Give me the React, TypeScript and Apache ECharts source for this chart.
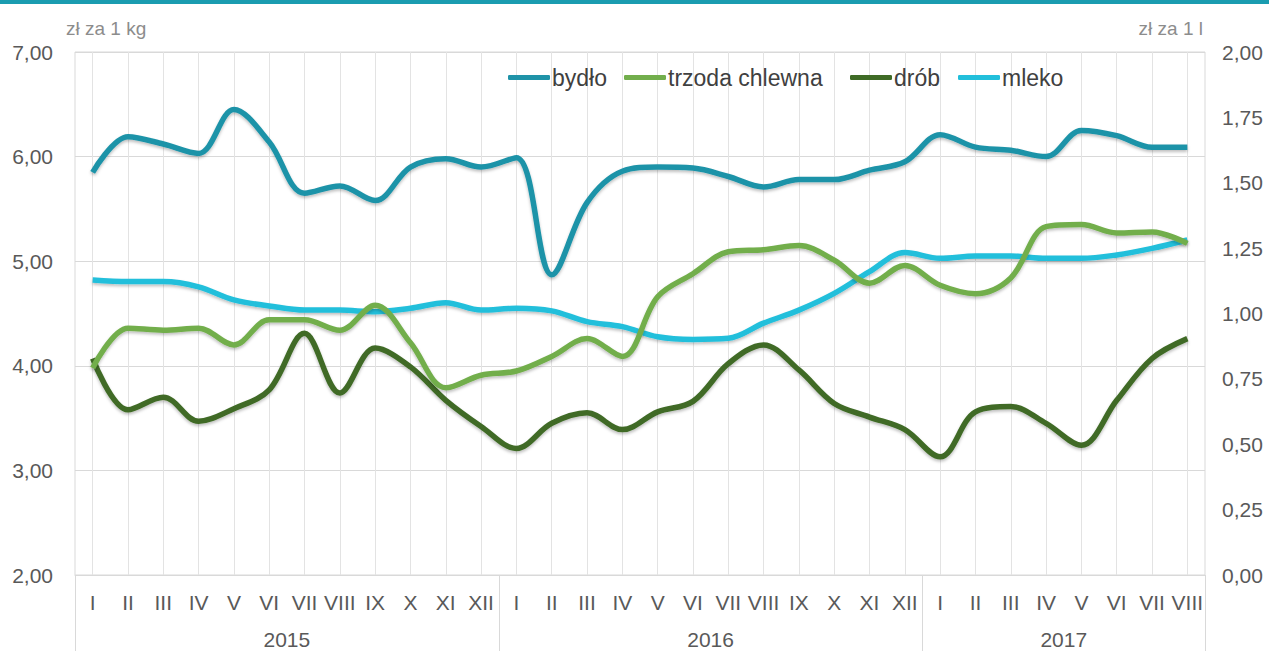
import React, { useEffect, useRef } from 'react';
import * as echarts from 'echarts';

const months = [
  'I', 'II', 'III', 'IV', 'V', 'VI', 'VII', 'VIII', 'IX', 'X', 'XI', 'XII',
  'I', 'II', 'III', 'IV', 'V', 'VI', 'VII', 'VIII', 'IX', 'X', 'XI', 'XII',
  'I', 'II', 'III', 'IV', 'V', 'VI', 'VII', 'VIII',
];
const years = ['2015', '2016', '2017'];
const yearLengths = [12, 12, 8];

const bydlo = [
  5.85, 6.19, 6.12, 6.03, 6.45, 6.14, 5.65, 5.72, 5.58, 5.9, 5.98, 5.9,
  5.99, 4.87, 5.56, 5.86, 5.9, 5.89, 5.81, 5.71, 5.78, 5.78, 5.87, 5.95,
  6.21, 6.09, 6.06, 6.0, 6.25, 6.2, 6.09, 6.09,
];
const trzoda = [
  3.98, 4.36, 4.34, 4.36, 4.2, 4.44, 4.44, 4.34, 4.58, 4.22, 3.79, 3.91,
  3.95, 4.09, 4.26, 4.09, 4.66, 4.88, 5.09, 5.11, 5.15, 5.01, 4.79, 4.96,
  4.77, 4.69, 4.84, 5.33, 5.35, 5.27, 5.28, 5.17,
];
const drob = [
  4.07, 3.58, 3.7, 3.47, 3.59, 3.77, 4.31, 3.74, 4.17, 3.99, 3.67, 3.42,
  3.21, 3.45, 3.55, 3.39, 3.56, 3.66, 4.02, 4.2, 3.96, 3.64, 3.51, 3.39,
  3.13, 3.56, 3.61, 3.45, 3.24, 3.67, 4.07, 4.26,
];
const mleko = [
  1.128, 1.122, 1.122, 1.102, 1.052, 1.029, 1.013, 1.013, 1.007, 1.02, 1.041, 1.013,
  1.02, 1.01, 0.969, 0.95, 0.911, 0.901, 0.905, 0.963, 1.013, 1.077, 1.16, 1.233,
  1.211, 1.22, 1.22, 1.211, 1.211, 1.224, 1.249, 1.281,
];

const seriesNames = ['bydło', 'trzoda chlewna', 'drób', 'mleko'];
const seriesColors = ['#1f93a8', '#72ae4c', '#3f6b26', '#22bfdb'];
const leftUnit = 'zł za 1 kg';
const rightUnit = 'zł za 1 l';

const FONT = 'Liberation Sans, Arial, sans-serif';

export default function App() {
  const ref = useRef<HTMLDivElement>(null);

  useEffect(() => {
    const chart = echarts.init(ref.current!, null, { renderer: 'svg' });

    const boundaries: number[] = [0];
    const centers: number[] = [];
    let acc = 0;
    yearLengths.forEach((n) => {
      centers.push(acc + n / 2);
      acc += n;
      boundaries.push(acc);
    });

    const fmt = (v: number) => v.toFixed(2).replace('.', ',');
    const dataSets = [bydlo, trzoda, drob, mleko];
    const legendLefts = [503, 619, 845, 953];

    const option: any = {
      animation: false,
      backgroundColor: '#ffffff',
      textStyle: { fontFamily: FONT },
      title: [
        {
          text: leftUnit,
          left: 61,
          top: 14,
          textStyle: { fontSize: 19, fontWeight: 'normal', color: '#8c8c8c', fontFamily: FONT },
        },
        {
          text: rightUnit,
          right: 61,
          top: 14,
          textStyle: { fontSize: 19, fontWeight: 'normal', color: '#8c8c8c', fontFamily: FONT },
        },
      ],
      graphic: [
        {
          type: 'rect',
          shape: { x: 0, y: 0, width: 1269, height: 4 },
          style: { fill: '#1a9cb0' },
        },
      ],
      legend: seriesNames.map((n, i) => ({
        data: [n],
        left: legendLefts[i],
        top: 61,
        icon: 'roundRect',
        itemWidth: 42,
        itemHeight: 5,
        textStyle: { fontSize: 23, color: '#404040', fontFamily: FONT, padding: [0, 0, 0, -3] },
      })),
      grid: {
        left: 75,
        right: 64,
        top: 52,
        bottom: 76,
        show: true,
        borderColor: '#d9d9d9',
        borderWidth: 1,
      },
      xAxis: [
        {
          type: 'category',
          data: months,
          boundaryGap: true,
          position: 'bottom',
          axisLine: { show: true, lineStyle: { color: '#d9d9d9' } },
          axisTick: {
            show: true,
            alignWithLabel: true,
            inside: true,
            length: 523,
            lineStyle: { color: '#e3e3e3' },
          },
          splitLine: { show: false },
          axisLabel: { fontSize: 21, color: '#595959', margin: 17, interval: 0, fontFamily: FONT },
        },
        {
          type: 'value',
          min: 0,
          max: acc,
          position: 'bottom',
          axisLine: { show: false },
          splitLine: { show: false },
          axisTick: {
            show: true,
            customValues: boundaries,
            length: 76,
            lineStyle: { color: '#d9d9d9' },
          },
          axisLabel: {
            customValues: centers,
            fontSize: 21,
            color: '#595959',
            margin: 54,
            fontFamily: FONT,
            formatter: (v: number) => {
              const idx = centers.indexOf(v);
              return idx >= 0 ? years[idx] : '';
            },
          },
        },
      ],
      yAxis: [
        {
          type: 'value',
          min: 2,
          max: 7,
          interval: 1,
          axisLine: { show: false },
          axisTick: { show: false },
          splitLine: { show: true, lineStyle: { color: '#d9d9d9' } },
          axisLabel: { fontSize: 21, color: '#595959', margin: 22, formatter: fmt, fontFamily: FONT },
        },
        {
          type: 'value',
          min: 0,
          max: 2,
          interval: 0.25,
          position: 'right',
          axisLine: { show: false },
          axisTick: { show: false },
          splitLine: { show: false },
          axisLabel: { fontSize: 21, color: '#595959', margin: 17, formatter: fmt, fontFamily: FONT },
        },
      ],
      series: seriesNames.map((n, i) => ({
        name: n,
        type: 'line',
        xAxisIndex: 0,
        yAxisIndex: i === 3 ? 1 : 0,
        data: dataSets[i],
        smooth: 0.35,
        symbol: 'none',
        itemStyle: { color: seriesColors[i] },
        lineStyle: {
          width: 5.5,
          color: seriesColors[i],
          shadowColor: 'rgba(0,0,0,0.25)',
          shadowBlur: 3,
          shadowOffsetY: 2,
        },
        z: 2 + (3 - i),
      })),
    };

    chart.setOption(option);
    return () => chart.dispose();
  }, []);

  return (
    <div
      ref={ref}
      style={{ position: 'fixed', left: 0, top: 0, width: 1269, height: 651, background: '#fff' }}
    />
  );
}
